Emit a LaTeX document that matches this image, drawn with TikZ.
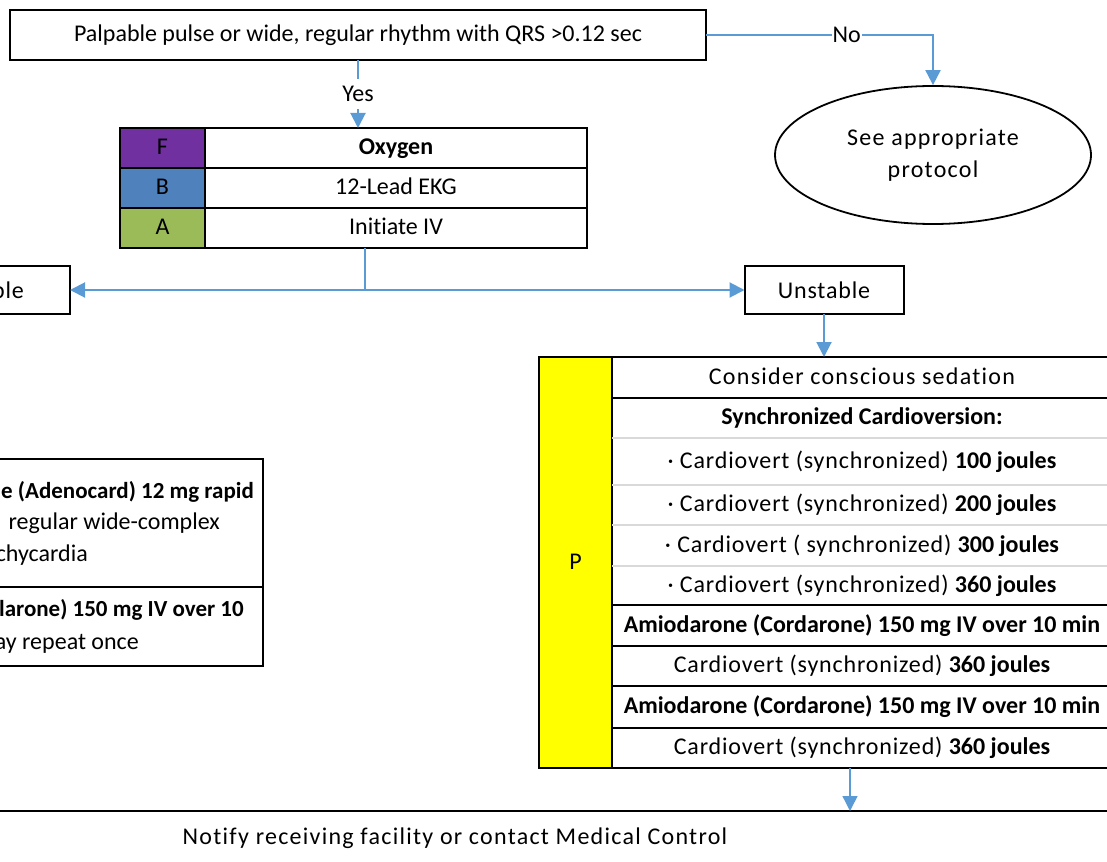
\documentclass[tikz,border=0pt]{standalone}
\usepackage{fontspec}
\setmainfont{Carlito}[Ligatures=NoCommon]
\newfontfamily\spaced{Carlito}[Ligatures=NoCommon, LetterSpace=3.5]
\newfontfamily\wide{Carlito}[Ligatures=NoCommon, LetterSpace=5.3]
\usetikzlibrary{positioning, arrows.meta, shapes.geometric}

\definecolor{fpurple}{HTML}{7030A0}
\definecolor{bblue}{HTML}{4F81BD}
\definecolor{agreen}{HTML}{9BBB59}
\definecolor{pyellow}{HTML}{FFFF00}
\definecolor{linkblue}{HTML}{5B9BD5}
\definecolor{rowgray}{HTML}{D9D9D9}

\tikzstyle{decision} = [
  rectangle,
  minimum height=48pt,
  text centered, inner sep=0pt, outer sep=0pt,
  draw=black, line width=2pt
]
\tikzstyle{ending} = [
  ellipse,
  minimum width=316pt, minimum height=138pt,
  text centered, align=center,
  font=\fontsize{24pt}{32pt}\wide,
  draw=black, line width=1.8pt
]
\tikzstyle{cell} = [
  rectangle, anchor=north west,
  inner sep=0pt, outer sep=0pt,
  text height=18pt, text depth=5pt
]
\tikzstyle{line} = [
  anchor=east, inner sep=0pt,
  text height=18pt, text depth=5pt
]
\tikzset{
  arrow/.style={
    line width=2pt, color=linkblue,
    -{Triangle[length=15pt,width=15pt]}
  },
  link/.style={line width=2pt, color=linkblue}
}

\begin{document}
\begin{tikzpicture}[
  x=1pt, y=-1pt,
  font=\fontsize{24pt}{29pt}\selectfont
]

\useasboundingbox (0,0) rectangle (1107,861);
\clip (0,0) rectangle (1107,861);

% ------------------------------------------------
% TOP: question + other protocol
% ------------------------------------------------

\node[decision, minimum width=696pt, minimum height=50pt] (pulse) at (358,35)
  {Palpable pulse or wide, regular rhythm with QRS >0.12 sec};

\node[ending] (protocol) at (933,155) {See appropriate\\protocol};

% ------------------------------------------------
% F / B / A table
% ------------------------------------------------

\node[cell, draw, line width=1.6pt, fill=fpurple, minimum width=85pt, minimum height=40pt] (fcell) at (120,128) {F};
\node[cell, draw, line width=1.6pt, minimum width=382pt, minimum height=40pt] (oxygen) at (205,128) {\textbf{Oxygen}};
\node[cell, draw, line width=1.6pt, fill=bblue, minimum width=85pt, minimum height=40pt] (bcell) at (120,168) {B};
\node[cell, draw, line width=1.6pt, minimum width=382pt, minimum height=40pt] (ekg) at (205,168) {12-Lead EKG};
\node[cell, draw, line width=1.6pt, fill=agreen, minimum width=85pt, minimum height=40pt] (acell) at (120,208) {A};
\node[cell, draw, line width=1.6pt, minimum width=382pt, minimum height=40pt] (iv) at (205,208) {Initiate IV};

% ------------------------------------------------
% Stable / Unstable
% ------------------------------------------------

\coordinate (split) at (365,290);

\node[decision, minimum width=156pt] (stable) at (-8,290) {\spaced\phantom{Sta}ble};
\node[decision, minimum width=159pt] (unstable) at (824,290) {\spaced Unstable};

% left box (stable branch)
\node[cell, draw, line width=1.8pt, anchor=north east, minimum width=420pt, minimum height=128pt] (adeno) at (263,459) {};
\node[cell, draw, line width=1.8pt, anchor=north east, minimum width=420pt, minimum height=79pt] (amio) at (263,587) {};

\node[line, font=\fontsize{23pt}{28pt}\selectfont] (adeno1) at (254,492) {\textbf{e (Adenocard) 12 mg rapid}};
\node[line] (adeno2) at (220,523) {regular wide-complex};
\node[line] (adeno3) at (88,555) {chycardia};
\node[line, font=\fontsize{23pt}{28pt}\selectfont] (amio1) at (244,610) {\textbf{larone) 150 mg IV over 10}};
\node[line] (amio2) at (139,643) {ay repeat once};

% ------------------------------------------------
% P table (unstable branch)
% ------------------------------------------------

\node[cell, draw, line width=2pt, fill=pyellow, minimum width=73pt, minimum height=411pt] (ptag) at (539,357) {P};

\node[cell, minimum width=500pt, minimum height=41pt] (r1) at (612,357) {\wide Consider conscious sedation};
\node[cell, minimum width=500pt, minimum height=40pt] (r2) at (612,398) {\textbf{Synchronized Cardioversion:}};
\node[cell, minimum width=500pt, minimum height=47pt] (r3) at (612,438) {{\spaced · Cardiovert (synchronized)} \textbf{100 joules}};
\node[cell, minimum width=500pt, minimum height=40pt] (r4) at (612,485) {{\spaced · Cardiovert (synchronized)} \textbf{200 joules}};
\node[cell, minimum width=500pt, minimum height=41pt] (r5) at (612,525) {{\spaced · Cardiovert ( synchronized)} \textbf{300 joules}};
\node[cell, minimum width=500pt, minimum height=39pt] (r6) at (612,566) {{\spaced · Cardiovert (synchronized)} \textbf{360 joules}};
\node[cell, minimum width=500pt, minimum height=41pt] (r7) at (612,605) {\textbf{Amiodarone (Cordarone) 150 mg IV over 10 min}};
\node[cell, minimum width=500pt, minimum height=40pt] (r8) at (612,646) {{\spaced Cardiovert (synchronized)} \textbf{360 joules}};
\node[cell, minimum width=500pt, minimum height=42pt] (r9) at (612,686) {\textbf{Amiodarone (Cordarone) 150 mg IV over 10 min}};
\node[cell, minimum width=500pt, minimum height=40pt] (r10) at (612,728) {{\spaced Cardiovert (synchronized)} \textbf{360 joules}};

% row rules
\draw[rowgray, line width=2pt] (r2.south west) -- (r2.south east);
\draw[rowgray, line width=2pt] (r3.south west) -- (r3.south east);
\draw[rowgray, line width=2pt] (r4.south west) -- (r4.south east);
\draw[rowgray, line width=2pt] (r5.south west) -- (r5.south east);
\draw[line width=2pt] (r1.south west) -- (r1.south east);
\draw[line width=2pt] (r6.south west) -- (r6.south east);
\draw[line width=2pt] (r7.south west) -- (r7.south east);
\draw[line width=2pt] (r8.south west) -- (r8.south east);
\draw[line width=2pt] (r9.south west) -- (r9.south east);
\draw[line width=2pt] (ptag.north west) rectangle (r10.south east);

% ------------------------------------------------
% BOTTOM
% ------------------------------------------------

\node[decision, minimum width=1320pt, minimum height=54pt] (notify) at (455,838)
  {\wide Notify receiving facility or contact Medical Control};

% ------------------------------------------------
% ARROWS
% ------------------------------------------------

\draw[arrow] (pulse.south) -- node[fill=white, minimum height=30pt, inner sep=2pt, text=black] {Yes} (pulse.south |- oxygen.north);
\draw[arrow] (pulse.east) -- node[pos=0.62, fill=white, inner sep=1pt, text=black] {No} (pulse.east -| protocol.north) -- (protocol.north);

\draw[link] (split |- iv.south) -- (split);
\draw[arrow] (split) -- (stable);
\draw[arrow] (split) -- (unstable);

\draw[arrow] (unstable) -- (unstable |- r1.north);

\coordinate (drop) at (850,790);
\draw[arrow, line width=1.4pt] (drop |- r10.south) -- (drop |- notify.north);

\end{tikzpicture}
\end{document}
